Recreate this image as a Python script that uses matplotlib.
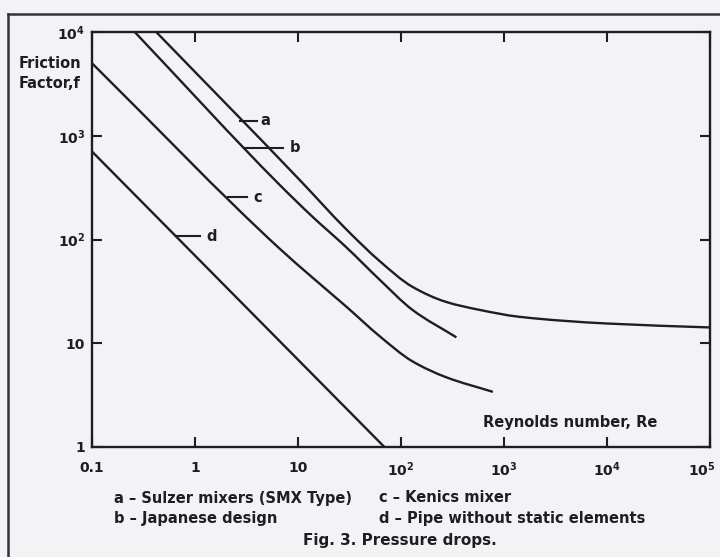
import numpy as np
import matplotlib.pyplot as plt
import matplotlib.transforms as mtransforms
from matplotlib.lines import Line2D
from matplotlib.path import Path
from matplotlib.patches import PathPatch

# values (Reynolds number, friction factor)
re_a = [0.42, 10.3, 29.5, 62, 129, 275, 575, 1400, 1e4, 1e5]
f_a = [1e4, 378, 125, 62, 35, 25, 21, 18, 15.5, 14.2]

re_b = [0.26, 6.6, 13.8, 29.5, 62, 129, 345]
f_b = [1e4, 338, 166, 84, 41, 21, 11.4]

re_c = [0.1, 6.6, 13.8, 29.5, 62, 129, 275, 780]
f_c = [5000, 82, 43, 22.5, 11.7, 6.7, 4.7, 3.4]

re_d = [0.1, 69]
f_d = [705, 1.0]

x_ticks = [0.1, 1, 10, 100, 1e3, 1e4, 1e5]
x_labels = ['0.1', '1', '10', '$10^2$', '$10^3$', '$10^4$', '$10^5$']
y_ticks = [1, 10, 100, 1e3, 1e4]
y_labels = ['1', '10', '$10^2$', '$10^3$', '$10^4$']

# curve tags: name, leader start Re, leader end Re, f, text Re
curve_tags = [('a', 2.75, 4.0, 1400, 4.8),
              ('b', 3.0, 7.1, 770, 9.4),
              ('c', 2.1, 3.2, 255, 4.1),
              ('d', 0.66, 1.12, 108, 1.45)]

legend_left = ['a \u2013 Sulzer mixers (SMX Type)', 'b \u2013 Japanese design']
legend_right = ['c \u2013 Kenics mixer', 'd \u2013 Pipe without static elements']

bg = '#f3f3f6'
ink = '#1e1e22'
plt.rcParams['font.family'] = ['DejaVu Sans']
plt.rcParams['mathtext.default'] = 'bf'


def smooth_curve(xs, ys):
    # monotone cubic (Fritsch-Carlson) through the read points in log-log
    # space, drawn as Bezier segments
    x = np.log10(xs)
    y = np.log10(ys)
    if len(x) < 3:
        return Path(10 ** np.column_stack([x, y]))
    h = np.diff(x)
    d = np.diff(y) / h
    m = np.empty_like(x)
    m[0], m[-1] = d[0], d[-1]
    for i in range(1, len(x) - 1):
        if d[i - 1] * d[i] <= 0:
            m[i] = 0.0
        else:
            w1 = 2 * h[i] + h[i - 1]
            w2 = h[i] + 2 * h[i - 1]
            m[i] = (w1 + w2) / (w1 / d[i - 1] + w2 / d[i])
    verts = [(x[0], y[0])]
    codes = [Path.MOVETO]
    for i in range(len(x) - 1):
        verts.append((x[i] + h[i] / 3, y[i] + m[i] * h[i] / 3))
        verts.append((x[i + 1] - h[i] / 3, y[i + 1] - m[i + 1] * h[i] / 3))
        verts.append((x[i + 1], y[i + 1]))
        codes += [Path.CURVE4] * 3
    return Path(10 ** np.array(verts), codes)


fig = plt.figure(figsize=(7.2, 5.57), dpi=100, facecolor=bg)
ax = fig.add_axes([92 / 720, 1 - 447 / 557, 618 / 720, 415 / 557])
ax.set_facecolor(bg)

ax.set_xscale('log')
ax.set_yscale('log')
ax.set_xlim(0.1, 1e5)
ax.set_ylim(1, 1e4)

for re, f in [(re_a, f_a), (re_b, f_b), (re_c, f_c), (re_d, f_d)]:
    ax.add_patch(PathPatch(smooth_curve(re, f), fill=False, edgecolor=ink,
                           linewidth=1.7, capstyle='butt'))

for name, x0, x1, f, xt in curve_tags:
    ax.plot([x0, x1], [f, f], color=ink, linewidth=1.5)
    ax.text(xt, f, name, ha='center', va='center', fontsize=10.5,
            fontweight='bold', color=ink)

ax.set_xticks(x_ticks)
ax.set_xticklabels(x_labels)
ax.set_yticks(y_ticks)
ax.set_yticklabels(y_labels)
ax.minorticks_off()
ax.tick_params(direction='in', length=7, width=1.5, colors=ink,
               top=True, right=True, labelsize=10)
ax.tick_params(axis='x', pad=10)
ax.tick_params(axis='y', pad=5)
for lab in ax.get_xticklabels() + ax.get_yticklabels():
    lab.set_fontweight('bold')
last = ax.get_xticklabels()[-1]
last.set_transform(last.get_transform() +
                   mtransforms.ScaledTranslation(-6 / 72, 0, fig.dpi_scale_trans))
for s in ax.spines.values():
    s.set_linewidth(1.7)
    s.set_color(ink)

fig.text(19 / 720, 1 - 63 / 557, 'Friction', ha='left', va='center',
         fontsize=10.5, fontweight='bold', color=ink)
fig.text(19 / 720, 1 - 83 / 557, 'Factor,f', ha='left', va='center',
         fontsize=10.5, fontweight='bold', color=ink)
fig.text(570 / 720, 1 - 423 / 557, 'Reynolds number, Re', ha='center',
         va='center', fontsize=10.5, fontweight='bold', color=ink)

for i in range(2):
    y = 1 - (498 + 20 * i) / 557
    fig.text(114 / 720, y, legend_left[i], ha='left', va='center',
             fontsize=10.5, fontweight='bold', color=ink)
    fig.text(379 / 720, y, legend_right[i], ha='left', va='center',
             fontsize=10.5, fontweight='bold', color=ink)
fig.text(400 / 720, 1 - 540 / 557, 'Fig. 3. Pressure drops.', ha='center',
         va='center', fontsize=11, fontweight='bold', color=ink)

# page frame lines from the scan
fig.add_artist(Line2D([8 / 720, 8 / 720], [0, 1 - 14 / 557],
                      transform=fig.transFigure, color='#333338', linewidth=1.8))
fig.add_artist(Line2D([8 / 720, 1], [1 - 14 / 557, 1 - 14 / 557],
                      transform=fig.transFigure, color='#333338', linewidth=1.8))

fig.savefig('out.png', dpi=100, facecolor=bg)
